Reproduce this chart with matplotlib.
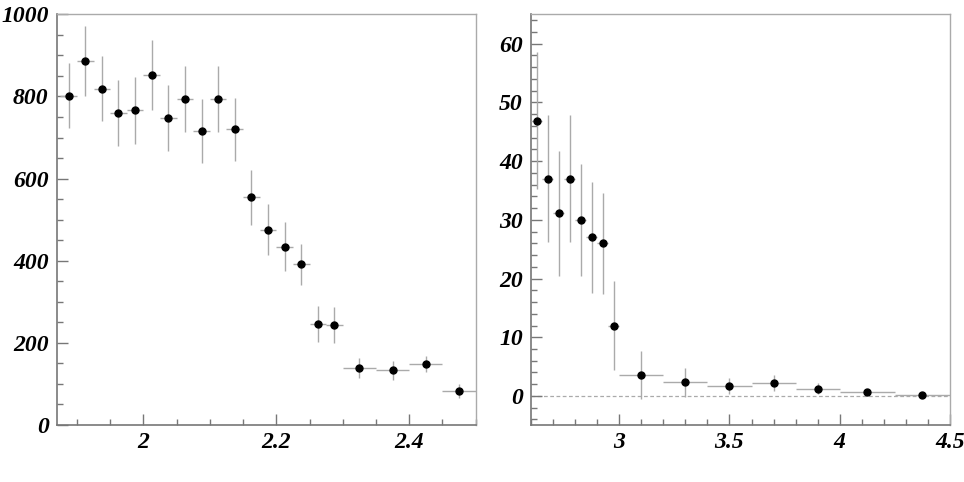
import numpy as np
import matplotlib
matplotlib.use("Agg")
import matplotlib.pyplot as plt
from matplotlib.ticker import MultipleLocator

# left panel: bin edges and contents
left_edges = [1.875, 1.9, 1.925, 1.95, 1.975, 2.0, 2.025, 2.05, 2.075, 2.1, 2.125,
              2.15, 2.175, 2.2, 2.225, 2.25, 2.275, 2.3, 2.35, 2.4, 2.45, 2.5]
left_vals = [802, 886, 819, 760, 766, 853, 748, 794, 715, 794, 720,
             554, 476, 434, 391, 245, 243, 139, 133, 148, 82]
left_errs = [80, 85, 80, 80, 81, 85, 81, 81, 78, 80, 77,
             67, 63, 60, 50, 44, 44, 25, 23, 20, 17]

# right panel
right_edges = [2.6, 2.65, 2.7, 2.75, 2.8, 2.85, 2.9, 2.95, 3.0,
               3.2, 3.4, 3.6, 3.8, 4.0, 4.25, 4.5]
right_vals = [46.9, 37.0, 31.1, 37.0, 30.0, 27.0, 26.0, 12.0, 3.6,
              2.3, 1.7, 2.2, 1.25, 0.75, 0.17]
right_errs = [11.7, 10.8, 10.7, 10.8, 9.5, 9.4, 8.6, 7.6, 4.1,
              2.5, 1.3, 1.3, 1.0, 0.4, 0.25]

font = {"family": "Liberation Serif", "weight": "bold", "style": "italic", "size": 17}
bar_color = "#aaaaaa"


def draw_panel(ax, edges, vals, errs):
    edges = np.array(edges)
    x = (edges[:-1] + edges[1:]) / 2
    xerr = (edges[1:] - edges[:-1]) / 2
    ax.errorbar(x, vals, xerr=xerr, yerr=errs, fmt="o", color="black",
                ecolor=bar_color, elinewidth=1.0, markersize=5, capsize=0, zorder=3)
    ax.tick_params(which="both", direction="in", top=False, right=False, color="#777777")
    ax.tick_params(which="major", length=8, width=1)
    ax.tick_params(which="minor", length=4, width=1)
    for side in ["left", "bottom"]:
        ax.spines[side].set_color("#777777")
        ax.spines[side].set_linewidth(1.2)
    for side in ["top", "right"]:
        ax.spines[side].set_color("#aaaaaa")
        ax.spines[side].set_linewidth(1.0)
    for lab in ax.get_xticklabels() + ax.get_yticklabels():
        lab.set_fontproperties(matplotlib.font_manager.FontProperties(**font))


fig = plt.figure(figsize=(9.64, 4.82), dpi=100)

ax1 = fig.add_axes([0.0591, 0.1183, 0.4344, 0.852])
ax1.set_xlim(1.87, 2.5)
ax1.set_ylim(0, 1000)
ax1.xaxis.set_major_locator(MultipleLocator(0.2))
ax1.xaxis.set_minor_locator(MultipleLocator(0.05))
ax1.yaxis.set_major_locator(MultipleLocator(200))
ax1.yaxis.set_minor_locator(MultipleLocator(50))
ax1.set_xticks([2.0, 2.2, 2.4], ["2", "2.2", "2.4"])
draw_panel(ax1, left_edges, left_vals, left_errs)
ax1.tick_params(axis="y", pad=6)
ax1.tick_params(axis="x", pad=5)

ax2 = fig.add_axes([0.5511, 0.1176, 0.4341, 0.8527])
ax2.set_xlim(2.6, 4.5)
ax2.set_ylim(-5, 65)
ax2.xaxis.set_major_locator(MultipleLocator(0.5))
ax2.xaxis.set_minor_locator(MultipleLocator(0.1))
ax2.yaxis.set_major_locator(MultipleLocator(10))
ax2.yaxis.set_minor_locator(MultipleLocator(2))
ax2.set_xticks([3.0, 3.5, 4.0, 4.5], ["3", "3.5", "4", "4.5"])
ax2.set_yticks([0, 10, 20, 30, 40, 50, 60])
ax2.axhline(0, color="#aaaaaa", linestyle="--", linewidth=0.9, dashes=(3, 2), zorder=1)
draw_panel(ax2, right_edges, right_vals, right_errs)
ax2.tick_params(axis="y", pad=6)
ax2.tick_params(axis="x", pad=5)

fig.savefig("out.png", dpi=100)
